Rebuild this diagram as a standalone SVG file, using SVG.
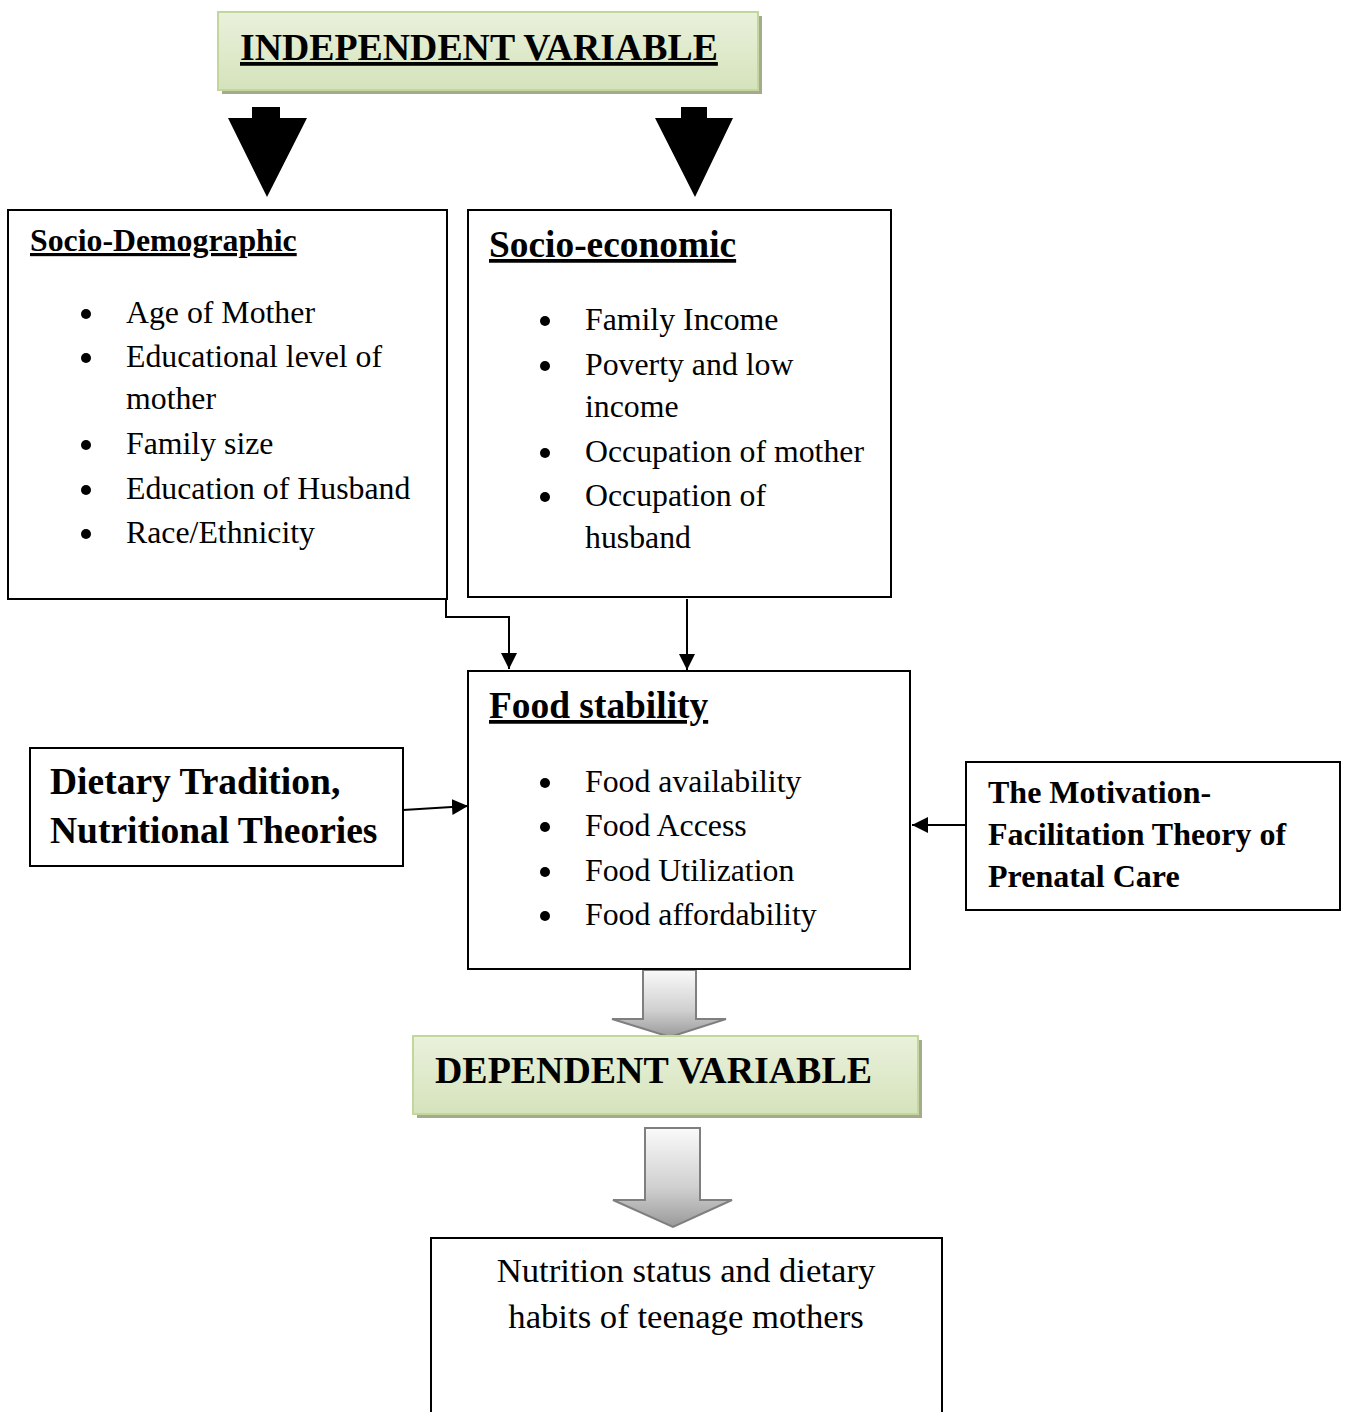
<svg xmlns="http://www.w3.org/2000/svg" width="1346" height="1412" viewBox="0 0 1346 1412">
<defs>
<linearGradient id="green" x1="0" y1="0" x2="0" y2="1">
<stop offset="0" stop-color="#eaf1dc"/>
<stop offset="1" stop-color="#d5e3bb"/>
</linearGradient>
<linearGradient id="gray" x1="0" y1="0" x2="0" y2="1">
<stop offset="0" stop-color="#fafafa"/>
<stop offset="0.6" stop-color="#d0d0d0"/>
<stop offset="1" stop-color="#9a9a9a"/>
</linearGradient>
<marker id="ah" viewBox="0 0 10 10" refX="10" refY="5" markerWidth="16" markerHeight="16" markerUnits="userSpaceOnUse" orient="auto">
<path d="M0,0 L10,5 L0,10 Z" fill="#000"/>
</marker>
</defs>
<style>
.box{fill:#fff;stroke:#000;stroke-width:2}
.gbox{fill:url(#green);stroke:#c3d69b;stroke-width:2}
.shadow{fill:#a3ab8c}
.t{font-family:"Liberation Serif","Times New Roman",serif;fill:#000}
.b{font-weight:bold}
.u{text-decoration:underline}
.item{font-size:31.8px}
.bul{fill:#000}
.con{fill:none;stroke:#000;stroke-width:2}
.garrow{fill:url(#gray);stroke:#7f7f7f;stroke-width:2}
</style>
<rect width="1346" height="1412" fill="#fff"/>

<g id="independent">
<rect class="shadow" x="222" y="16" width="540" height="78"/>
<rect class="gbox" x="218" y="12" width="540" height="78"/>
<text class="t b u" x="240" y="60" font-size="37.8">INDEPENDENT VARIABLE</text>
</g>

<g id="connectors">
<polygon points="252,107 280,107 280,118 307,118 267,197 228,118 252,118" fill="#000"/>
<polygon points="681,107 707,107 707,118 733,118 695,197 655,118 681,118" fill="#000"/>
<polyline class="con" points="446,599 446,617 509,617 509,669" marker-end="url(#ah)"/>
<line class="con" x1="687" y1="599" x2="687" y2="670" marker-end="url(#ah)"/>
<line class="con" x1="403" y1="810" x2="468" y2="806" marker-end="url(#ah)"/>
<line class="con" x1="966" y1="825" x2="912" y2="825" marker-end="url(#ah)"/>
<polygon class="garrow" points="643,970 696,970 696,1019 726,1019 670,1037 612,1019 643,1019"/>
<polygon class="garrow" points="645,1128 700,1128 700,1200 732,1200 673,1227 613,1200 645,1200"/>
</g>

<g id="socio-demographic">
<rect class="box" x="8" y="210" width="439" height="389"/>
<text class="t b u" x="30" y="251" font-size="31.8">Socio-Demographic</text>
<circle class="bul" cx="86" cy="314" r="5"/>
<text class="t item" x="126" y="323">Age of Mother</text>
<circle class="bul" cx="86" cy="358" r="5"/>
<text class="t item" x="126" y="367">Educational level of</text>
<text class="t item" x="126" y="409">mother</text>
<circle class="bul" cx="86" cy="445" r="5"/>
<text class="t item" x="126" y="454">Family size</text>
<circle class="bul" cx="86" cy="490" r="5"/>
<text class="t item" x="126" y="499">Education of Husband</text>
<circle class="bul" cx="86" cy="534" r="5"/>
<text class="t item" x="126" y="543">Race/Ethnicity</text>
</g>

<g id="socio-economic">
<rect class="box" x="468" y="210" width="423" height="387"/>
<text class="t b u" x="489" y="257" font-size="37.4">Socio-economic</text>
<circle class="bul" cx="545" cy="321" r="5"/>
<text class="t item" x="585" y="330">Family Income</text>
<circle class="bul" cx="545" cy="366" r="5"/>
<text class="t item" x="585" y="375">Poverty and low</text>
<text class="t item" x="585" y="417">income</text>
<circle class="bul" cx="545" cy="453" r="5"/>
<text class="t item" x="585" y="462">Occupation of mother</text>
<circle class="bul" cx="545" cy="497" r="5"/>
<text class="t item" x="585" y="506">Occupation of</text>
<text class="t item" x="585" y="548">husband</text>
</g>

<g id="food-stability">
<rect class="box" x="468" y="671" width="442" height="298"/>
<text class="t b u" x="489" y="718" font-size="37.4">Food stability</text>
<circle class="bul" cx="545" cy="783" r="5"/>
<text class="t item" x="585" y="792">Food availability</text>
<circle class="bul" cx="545" cy="827" r="5"/>
<text class="t item" x="585" y="836">Food Access</text>
<circle class="bul" cx="545" cy="872" r="5"/>
<text class="t item" x="585" y="881">Food Utilization</text>
<circle class="bul" cx="545" cy="916" r="5"/>
<text class="t item" x="585" y="925">Food affordability</text>
</g>

<g id="dietary-tradition">
<rect class="box" x="30" y="748" width="373" height="118"/>
<text class="t b" x="50" y="794" font-size="37.5">Dietary Tradition,</text>
<text class="t b" x="50" y="843" font-size="37.5">Nutritional Theories</text>
</g>

<g id="motivation-facilitation">
<rect class="box" x="966" y="762" width="374" height="148"/>
<text class="t b" x="988" y="803" font-size="32">The Motivation-</text>
<text class="t b" x="988" y="845" font-size="32">Facilitation Theory of</text>
<text class="t b" x="988" y="887" font-size="32">Prenatal Care</text>
</g>

<g id="dependent">
<rect class="shadow" x="417" y="1040" width="505" height="78"/>
<rect class="gbox" x="413" y="1036" width="505" height="78"/>
<text class="t b" x="435" y="1083" font-size="37.9">DEPENDENT VARIABLE</text>
</g>

<g id="nutrition-status">
<rect class="box" x="431" y="1238" width="511" height="190"/>
<text class="t" x="686" y="1282" font-size="34.7" text-anchor="middle">Nutrition status and dietary</text>
<text class="t" x="686" y="1328" font-size="34.7" text-anchor="middle">habits of teenage mothers</text>
</g>
</svg>
